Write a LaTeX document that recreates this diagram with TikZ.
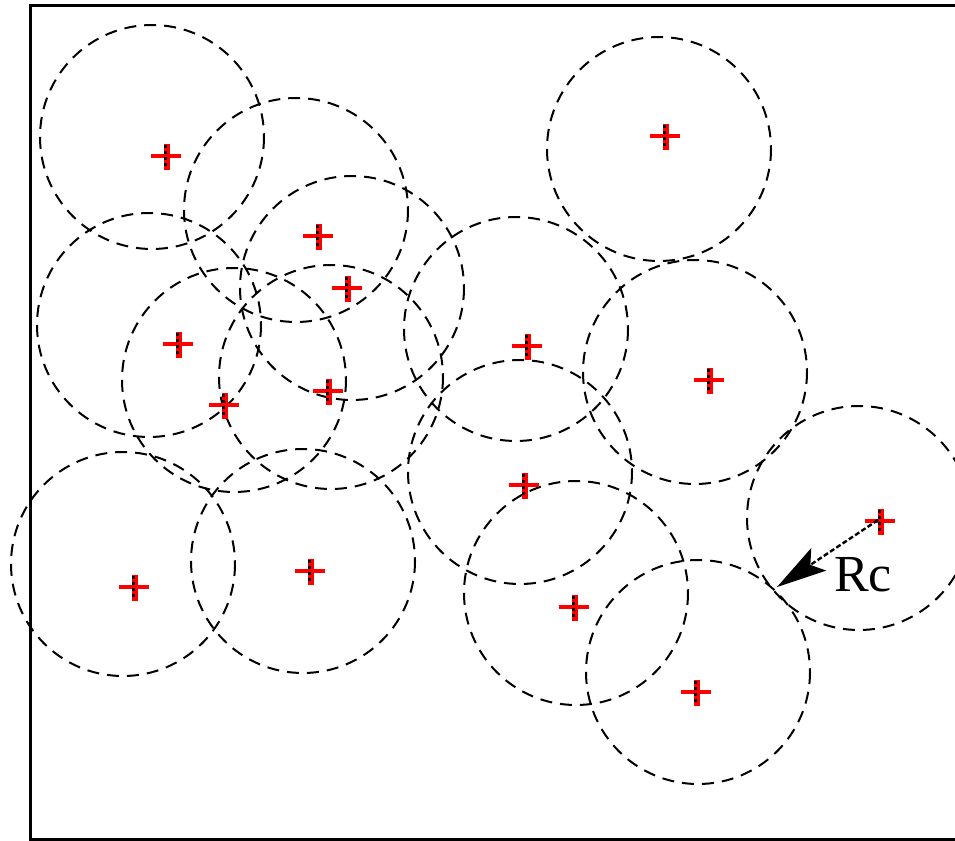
\documentclass[tikz,border=0pt]{standalone}
\usepackage{fontspec}
\setmainfont{Liberation Serif}
\usetikzlibrary{arrows.meta}
\tikzset{
  sensrange/.style={draw=black, line width=2pt, dash pattern=on 12pt off 8pt},
  borderframe/.style={draw=black, line width=3.2pt},
  radiusline/.style={draw=black, line width=2.4pt, dash pattern=on 5pt off 2.5pt,
    -{Stealth[length=50pt,width=27pt,inset=10pt]}},
  rclabel/.style={font=\fontsize{52}{60}\selectfont, anchor=base west, inner sep=0pt},
  pics/sensor/.style={code={
    \draw[red, line width=3.4pt] (-15,-1) -- (15,-1);
    \draw[red, line width=6pt] (1,-13) -- (1,13);
    \draw[black, line width=3pt, dash pattern=on 3pt off 3pt] (-0.5,-12) -- (-0.5,12);
  }}
}
\begin{document}
\begin{tikzpicture}[x=1pt,y=-1pt]
\useasboundingbox (0,0) rectangle (955,840);
\clip (0,0) rectangle (955,840);
\fill[white] (0,0) rectangle (955,840);
\draw[borderframe] (30.5,5.3) rectangle (975,839.5);
% sensing ranges
\foreach \cx/\cy [count=\i] in {152/137,296/210,352/288,149/325,234/380,331/377,516/329,659/149,695/372,859/518,520/472,576/593,698/672,303/561,123/564}
  \draw[sensrange] (\cx,\cy) circle[radius=112];
% sensors
\foreach \px/\py [count=\i] in {166/157,318/237,347/289,178/345,224/406,328/392,527/347,665/137,709/381,880/522,524/486,574/608,696/693,134/588,310/572}
  \pic (s\i) at (\px,\py) {sensor};
\coordinate (s10c) at (878,520);
\coordinate (tip) at (777,587);
\draw[radiusline] (s10c) -- (tip);
\node[rclabel] (rc) at (834,591) {Rc};
\end{tikzpicture}
\end{document}
